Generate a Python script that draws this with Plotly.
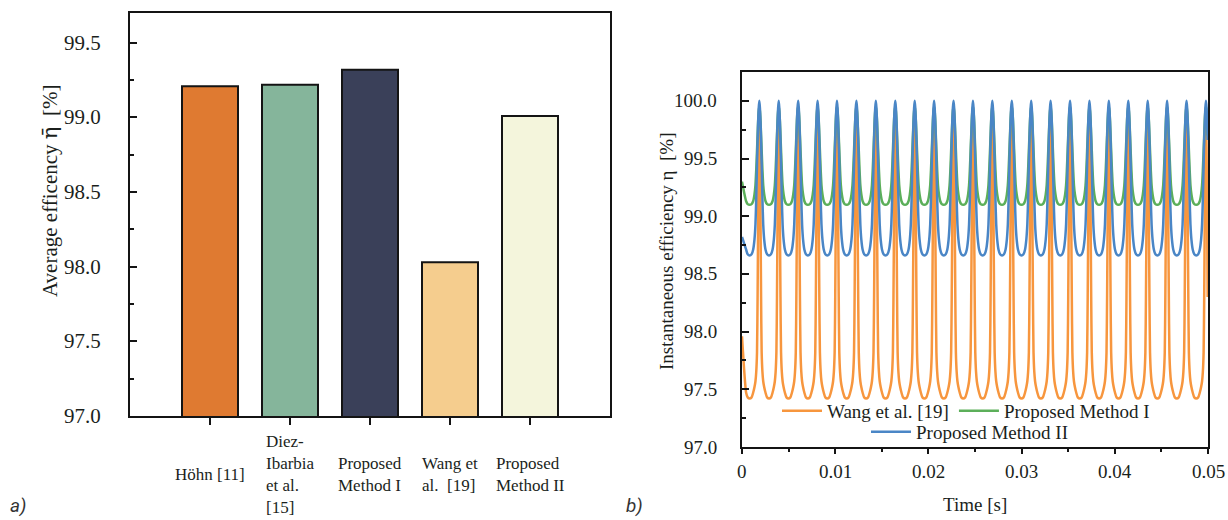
import plotly.graph_objects as go

# ---------------- Panel a) data ----------------
methods = ["Höhn [11]", "Diez-Ibarbia et al. [15]", "Proposed Method I",
           "Wang et al. [19]", "Proposed Method II"]
method_labels = ["Höhn [11]", "Diez-<br>Ibarbia<br>et al.<br>[15]", "Proposed<br>Method I",
                 "Wang et<br>al.\u00a0\u00a0[19]", "Proposed<br>Method II"]
avg_eff = [99.21, 99.22, 99.32, 98.03, 99.01]
bar_colors = ["#DF7A31", "#85B59B", "#3A4059", "#F5CD8E", "#F4F5DC"]
a_yticks = [97.0, 97.5, 98.0, 98.5, 99.0, 99.5]

# ---------------- Panel b) data ----------------
peak_times = [0.00186, 0.00394, 0.00603, 0.00811, 0.01019, 0.01228, 0.01436, 0.01645,
              0.01853, 0.02061, 0.02270, 0.02478, 0.02686, 0.02895, 0.03103, 0.03311,
              0.03520, 0.03728, 0.03936, 0.04145, 0.04353, 0.04561, 0.04770, 0.04978]
cycle_phase = [0.0, 0.03, 0.06, 0.09, 0.12, 0.16, 0.20, 0.25, 0.32, 0.40,
               0.50, 0.60, 0.68, 0.75, 0.80, 0.84, 0.88, 0.91, 0.94, 0.97]
wang_cycle = [99.88, 99.60, 99.00, 98.30, 97.82, 97.65, 97.57, 97.52, 97.47, 97.43,
              97.42, 97.43, 97.47, 97.52, 97.57, 97.65, 97.82, 98.30, 99.00, 99.60]
pm1_cycle = [99.95, 99.91, 99.83, 99.70, 99.57, 99.40, 99.27, 99.19, 99.13, 99.105,
             99.10, 99.105, 99.13, 99.19, 99.27, 99.40, 99.57, 99.70, 99.83, 99.91]
pm2_cycle = [100.0, 99.94, 99.82, 99.66, 99.45, 99.15, 98.93, 98.80, 98.71, 98.67,
             98.66, 98.67, 98.71, 98.80, 98.93, 99.15, 99.45, 99.66, 99.82, 99.94]
start_vals = [97.96, 99.30, 98.82]
series_names = ["Wang et al. [19]", "Proposed Method I", "Proposed Method II"]
series_colors = ["#F7963E", "#5CAF5A", "#4A86C6"]
b_xticks = [0, 0.01, 0.02, 0.03, 0.04, 0.05]
b_xticklabels = ["0", "0.01", "0.02", "0.03", "0.04", "0.05"]
b_yticks = [97.0, 97.5, 98.0, 98.5, 99.0, 99.5, 100.0]
T_END = 0.05


def build_series(cycle, start_val):
    period = peak_times[1] - peak_times[0]
    ts, vs = [0.0], [start_val]
    a0 = peak_times[0] - period
    for p, v in zip(cycle_phase, cycle):
        t = a0 + p * period
        if p >= 0.3 and t > 0:
            ts.append(t)
            vs.append(v)
    for a in peak_times:
        for p, v in zip(cycle_phase, cycle):
            t = a + p * period
            if t <= T_END:
                ts.append(t)
                vs.append(v)
    return ts, vs


fig = go.Figure()

fig.add_trace(go.Bar(
    x=methods, y=avg_eff, width=0.7,
    marker=dict(color=bar_colors, line=dict(color="#141414", width=2)),
    xaxis="x", yaxis="y", showlegend=False,
))

for i, (cyc, sv) in enumerate(zip([wang_cycle, pm1_cycle, pm2_cycle], start_vals)):
    ts, vs = build_series(cyc, sv)
    fig.add_trace(go.Scatter(
        x=ts, y=vs, mode="lines", name=series_names[i],
        line=dict(color=series_colors[i], width=2.5, shape="spline", smoothing=0.6),
        xaxis="x2", yaxis="y2",
        legend="legend" if i < 2 else "legend2",
    ))

FONT = "Liberation Serif"
TXT = "#1b1f1c"
W, H = 1228, 520

axis_common = dict(showline=True, linecolor="#141414", mirror=True, showgrid=False, zeroline=False,
                   tickcolor="#141414", showticklabels=False, automargin=False)

annotations = []
# category labels (panel a)
for m, lab in zip(methods, method_labels):
    annotations.append(dict(x=m, xref="x", y=1 - 474 / H, yref="paper", text=lab, showarrow=False,
                            align="left", xanchor="center", yanchor="middle",
                            font=dict(family=FONT, size=17, color=TXT)))
# tick labels as serif text placed through the axes
for v in a_yticks:
    annotations.append(dict(x=103 / W, xref="paper", y=v, yref="y", text=f"{v:.1f}", showarrow=False,
                            xanchor="right", yanchor="middle", font=dict(family=FONT, size=21, color=TXT)))
for v in b_yticks:
    annotations.append(dict(x=719 / W, xref="paper", y=v, yref="y2", text=f"{v:.1f}", showarrow=False,
                            xanchor="right", yanchor="middle", font=dict(family=FONT, size=19, color=TXT)))
for v, lab in zip(b_xticks, b_xticklabels):
    annotations.append(dict(x=v, xref="x2", y=1 - 471 / H, yref="paper", text=lab, showarrow=False,
                            xanchor="center", yanchor="middle", font=dict(family=FONT, size=19, color=TXT)))

annotations += [
    dict(x=50 / W, y=1 - 191 / H, xref="paper", yref="paper",
         text="Average efficency <span style='font-family:DejaVu Serif'>η\u0304</span>\u00a0\u00a0[%]",
         textangle=-90, showarrow=False, xanchor="center", yanchor="middle",
         font=dict(family=FONT, size=21, color=TXT)),
    dict(x=666 / W, y=1 - 251 / H, xref="paper", yref="paper", text="Instantaneous efficiency η\u00a0\u00a0[%]",
         textangle=-90, showarrow=False, xanchor="center", yanchor="middle",
         font=dict(family=FONT, size=19, color=TXT)),
    dict(x=975 / W, y=1 - 504 / H, xref="paper", yref="paper", text="Time [s]",
         showarrow=False, xanchor="center", yanchor="middle",
         font=dict(family=FONT, size=19, color=TXT)),
    dict(x=18 / W, y=1 - 505 / H, xref="paper", yref="paper", text="a)",
         showarrow=False, xanchor="center", yanchor="middle",
         font=dict(family="Roboto", size=19, color="#333333", style="italic")),
    dict(x=634 / W, y=1 - 505 / H, xref="paper", yref="paper", text="b)",
         showarrow=False, xanchor="center", yanchor="middle",
         font=dict(family="Roboto", size=19, color="#333333", style="italic")),
]

fig.update_layout(
    width=W, height=H, margin=dict(l=0, r=0, t=0, b=0),
    paper_bgcolor="white", plot_bgcolor="white",
    font=dict(family=FONT, color=TXT),
    bargap=0.3,
    xaxis=dict(domain=[130 / W, 610 / W], range=[-1, 5], type="category", anchor="y",
               ticks="outside", ticklen=7, tickwidth=2, linewidth=2, **axis_common),
    yaxis=dict(domain=[1 - 416 / H, 1 - 13 / H], range=[97, 99.7], anchor="x",
               tickvals=a_yticks, ticks="inside", ticklen=7, tickwidth=2, linewidth=2,
               minor=dict(dtick=0.25, tick0=97, ticks="inside", ticklen=4, tickwidth=2, tickcolor="#141414"),
               **axis_common),
    xaxis2=dict(domain=[742 / W, 1208 / W], range=[0, 0.05], anchor="y2",
                tickvals=b_xticks, ticks="outside", ticklen=5, tickwidth=2, linewidth=2,
                minor=dict(dtick=0.005, tick0=0, ticks="outside", ticklen=3, tickwidth=2, tickcolor="#141414"),
                **axis_common),
    yaxis2=dict(domain=[1 - 447 / H, 1 - 72 / H], range=[97, 100.25], anchor="x2",
                tickvals=b_yticks, ticks="inside", ticklen=7, tickwidth=2, linewidth=2,
                minor=dict(dtick=0.25, tick0=97, ticks="inside", ticklen=4, tickwidth=2, tickcolor="#141414"),
                **axis_common),
    legend=dict(orientation="h", x=777 / W, y=1 - 392 / H, xanchor="left", yanchor="top",
                bgcolor="rgba(0,0,0,0)", font=dict(family=FONT, size=19, color=TXT),
                itemwidth=40, tracegroupgap=0),
    legend2=dict(orientation="h", x=866 / W, y=1 - 413 / H, xanchor="left", yanchor="top",
                 bgcolor="rgba(0,0,0,0)", font=dict(family=FONT, size=19, color=TXT),
                 itemwidth=40),
    annotations=annotations,
)

fig.write_html("out.html")
